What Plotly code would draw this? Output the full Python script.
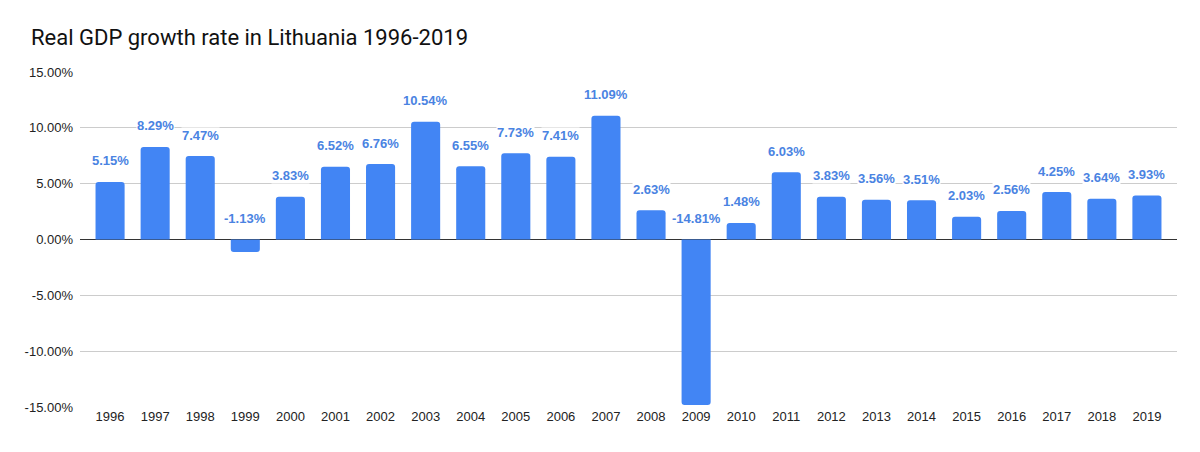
import plotly.graph_objects as go

years = [str(y) for y in range(1996, 2020)]
growth = [5.15, 8.29, 7.47, -1.13, 3.83, 6.52, 6.76, 10.54, 6.55, 7.73, 7.41, 11.09,
          2.63, -14.81, 1.48, 6.03, 3.83, 3.56, 3.51, 2.03, 2.56, 4.25, 3.64, 3.93]
y_tickvals = [-15, -10, -5, 0, 5, 10, 15]
y_ticktext = ["-15.00%", "-10.00%", "-5.00%", "0.00%", "5.00%", "10.00%", "15.00%"]
title_text = "Real GDP growth rate in Lithuania 1996-2019"

BAR = "#4285F4"
LABEL = "#4a83e2"

fig = go.Figure()
fig.add_trace(go.Bar(x=years, y=growth, marker=dict(color=BAR, line=dict(width=0)),
                     hoverinfo="x+y"))

for i, v in enumerate(growth):
    fig.add_annotation(x=i, y=max(v, 0), text=f"<b>{v:.2f}%</b>", showarrow=False,
                       xref="x", yref="y",
                       yanchor="middle", yshift=21, bgcolor="white", borderpad=0,
                       font=dict(family="Arial", size=13, color=LABEL))

fig.update_layout(
    width=1200, height=452,
    margin=dict(l=80, r=23, t=72, b=45),
    paper_bgcolor="white", plot_bgcolor="white",
    bargap=0.355, barcornerradius=3,
    showlegend=False,
    title=dict(text=title_text, x=31/1200, xanchor="left", xref="container",
               y=1-37/452, yanchor="middle", yref="container",
               font=dict(family="Roboto", size=22, color="#111111")),
    xaxis=dict(type="category", range=[-0.667, 23.667], showgrid=False, showline=False,
               ticks="", tickfont=dict(family="Arial", size=13, color="#222222"),
               fixedrange=True),
    yaxis=dict(range=[-15, 15], tickvals=y_tickvals, ticktext=y_ticktext,
               showgrid=True, gridcolor="#cccccc", gridwidth=1,
               zeroline=True, zerolinecolor="#333333", zerolinewidth=1,
               showline=False, ticks="", ticklabelstandoff=6,
               tickfont=dict(family="Arial", size=13, color="#222222"),
               fixedrange=True),
)

fig.write_html("out.html")
